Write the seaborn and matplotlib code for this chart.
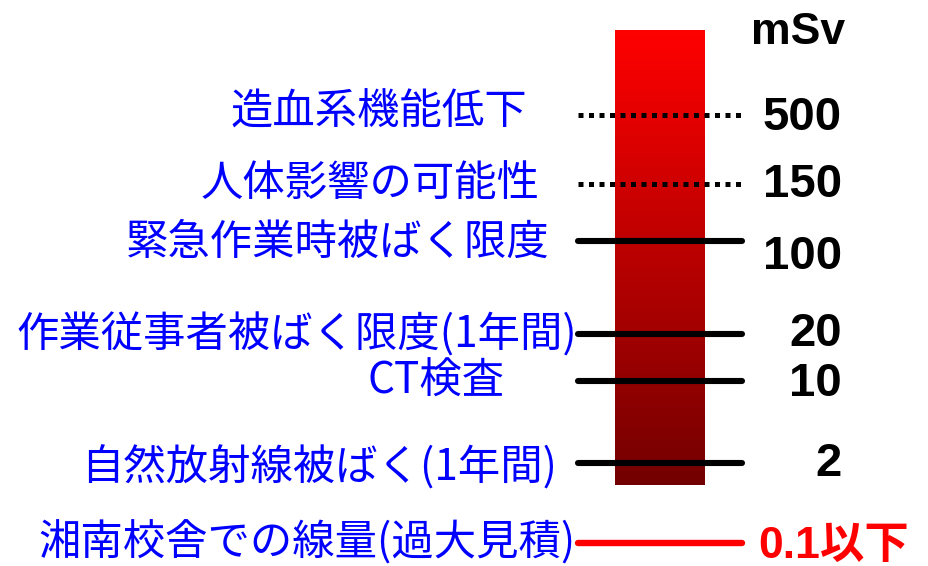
import numpy as np
import pandas as pd
import matplotlib
matplotlib.use("Agg")
import matplotlib.pyplot as plt
import seaborn as sns
from matplotlib.colors import LinearSegmentedColormap

# data: dose levels (mSv) and what they mean
doses = ["500", "150", "100", "20", "10", "2", "0.1以下"]
meanings = ["造血系機能低下", "人体影響の可能性", "緊急作業時被ばく限度",
            "作業従事者被ばく限度(1年間)", "CT検査", "自然放射線被ばく(1年間)",
            "湘南校舎での線量(過大見積)"]
line_kind = ["dotted", "dotted", "solid", "solid", "solid", "solid", "ours"]
unit = "mSv"

# layout (pixel coordinates of the schematic)
line_y = [115, 184, 241, 334, 381, 463, 543]
label_y = [113, 184, 243, 335, 382, 468, 543]
label_right = [527, 540, 550, 577, 505, 557, 576]
num_y = [118, 185, 257, 334, 384, 464, 546]
line_x = (578, 742)
bar_x = (615, 705)
bar_y = (30, 485)

sns.set_style("white")
plt.rcParams['font.family'] = ['Noto Sans CJK JP', 'DejaVu Sans']

fig = plt.figure(figsize=(9.29, 5.66), dpi=100)
ax = fig.add_axes([0, 0, 1, 1])
ax.set_xlim(0, 929)
ax.set_ylim(566, 0)
ax.axis("off")

# gradient bar
cmap = LinearSegmentedColormap.from_list("dose", ["#FF0000", "#730000"])
grad = np.linspace(0, 1, 256)[:, None]
ax.imshow(grad, cmap=cmap, aspect="auto",
          extent=[bar_x[0], bar_x[1], bar_y[1], bar_y[0]], zorder=1)

# level lines
for y, kind in zip(line_y, line_kind):
    df = pd.DataFrame({"x": list(line_x), "y": [y, y]})
    if kind == "dotted":
        sns.lineplot(data=df, x="x", y="y", ax=ax, color="black",
                     linewidth=3.6, linestyle=(0, (1, 1.1)), zorder=3)
    elif kind == "solid":
        sns.lineplot(data=df, x="x", y="y", ax=ax, color="black",
                     linewidth=4.4, zorder=3)
    else:
        sns.lineplot(data=df, x="x", y="y", ax=ax, color="#FF0000",
                     linewidth=4.6, zorder=3)

# description labels
for txt, y, xr in zip(meanings, label_y, label_right):
    ax.text(xr, y, txt, ha="right", va="center", fontsize=30.5, color="#0000FF")

# values
for d, y, kind in zip(doses, num_y, line_kind):
    if kind == "ours":
        ax.text(758, y, d, ha="left", va="center", fontsize=32, fontweight="bold",
                color="#FF0000", family=["Liberation Sans", "Noto Sans CJK JP"])
    else:
        ax.text(842, y, d, ha="right", va="center", fontsize=34, fontweight="bold",
                color="black", family=["Liberation Sans", "DejaVu Sans"])

ax.text(798, 32, unit, ha="center", va="center", fontsize=32, fontweight="bold",
        color="black", family=["Liberation Sans", "DejaVu Sans"])

fig.savefig("out.png", dpi=100)
